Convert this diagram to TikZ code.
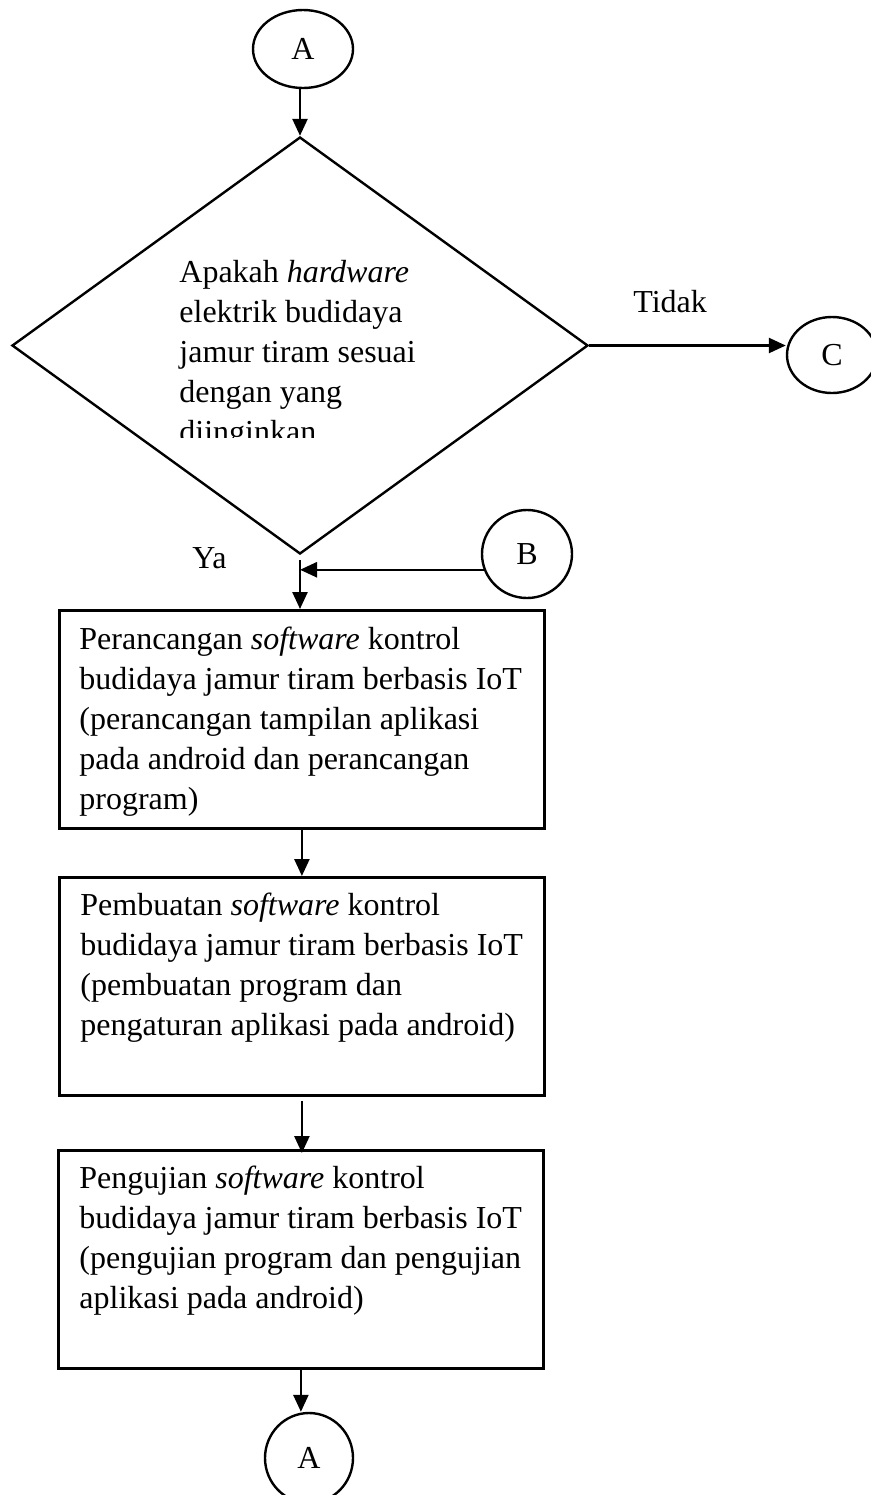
\documentclass[tikz,border=0pt]{standalone}
\usepackage{fontspec}
\setmainfont{Liberation Serif}
\usetikzlibrary{shapes.geometric,arrows.meta}
\newdimen\pxu \pxu=0.5pt
\newcommand\flowfont{\fontsize{16pt}{20pt}\selectfont}
\tikzset{
  ln/.style={line width=1.25pt},
  arr/.style={ln, -{Triangle[length=8.5pt,width=7.5pt]}},
  boxnode/.style={draw, line width=1.4pt, rectangle, inner sep=0pt,
    minimum width=485\pxu, minimum height=218\pxu, anchor=north west},
  conn/.style={draw, ellipse, line width=1.2pt, inner sep=0pt, font=\flowfont},
  body/.style={anchor=north west, align=left, inner sep=0pt, font=\flowfont},
  lbl/.style={anchor=base west, inner sep=0pt, font=\flowfont},
}
\begin{document}
\begin{tikzpicture}[x=0.5pt,y=-0.5pt]
\useasboundingbox (0,0) rectangle (871,1495);
\clip (0,0) rectangle (871,1495);

\node[conn, minimum width=100\pxu, minimum height=78\pxu] (Atop) at (303,49) {A};
\node[draw, diamond, line width=1.2pt, inner sep=0pt,
      minimum width=576\pxu, minimum height=417\pxu] (dia) at (300,345.5) {};
\begin{scope}
  \clip (150,240) rectangle (470,437);
  \node[body] (dtext) at (179,254) {\strut Apakah \textit{hardware}\\elektrik budidaya\\jamur tiram sesuai\\dengan yang\\diinginkan};
\end{scope}
\node[conn, minimum width=90\pxu, minimum height=76\pxu] (C) at (832,355) {C};
\node[lbl] (tidak) at (633,312) {Tidak};
\node[conn, minimum width=90\pxu, minimum height=88\pxu] (B) at (527,554) {B};
\node[lbl] (ya) at (192,568) {Ya};

\node[boxnode] (box1) at (58,609) {};
\node[body] (t1) at ([xshift=21\pxu,yshift=-12\pxu]box1.north west)
  {\strut Perancangan \textit{software} kontrol\\budidaya jamur tiram berbasis IoT\\(perancangan tampilan aplikasi\\pada android dan perancangan\\program)};
\node[boxnode] (box2) at (58,876) {};
\node[body] (t2) at ([xshift=22\pxu,yshift=-11\pxu]box2.north west)
  {\strut Pembuatan \textit{software} kontrol\\budidaya jamur tiram berbasis IoT\\(pembuatan program dan\\pengaturan aplikasi pada android)};
\node[boxnode] (box3) at (57,1149) {};
\node[body] (t3) at ([xshift=22\pxu,yshift=-11\pxu]box3.north west)
  {\strut Pengujian \textit{software} kontrol\\budidaya jamur tiram berbasis IoT\\(pengujian program dan pengujian\\aplikasi pada android)};
\node[conn, minimum width=88\pxu, minimum height=90\pxu] (Abot) at (309,1458) {A};

\draw[arr] (dia.north |- Atop.south) -- (dia.north);
\draw[arr] (dia.east) -- (dia.east -| C.west);
\draw[arr] ([yshift=-5\pxu]dia.south) -- (dia.south |- box1.north);
\draw[arr] (B.200) -- (B.200 -| dia.south);
\draw[arr] (box1.south) -- (box2.north);
\draw[arr] ([yshift=-4\pxu]box2.south) -- ([yshift=-4\pxu]box2.south |- box3.north);
\draw[arr] (box3.south) -- (box3.south |- Abot.north);
\end{tikzpicture}
\end{document}
